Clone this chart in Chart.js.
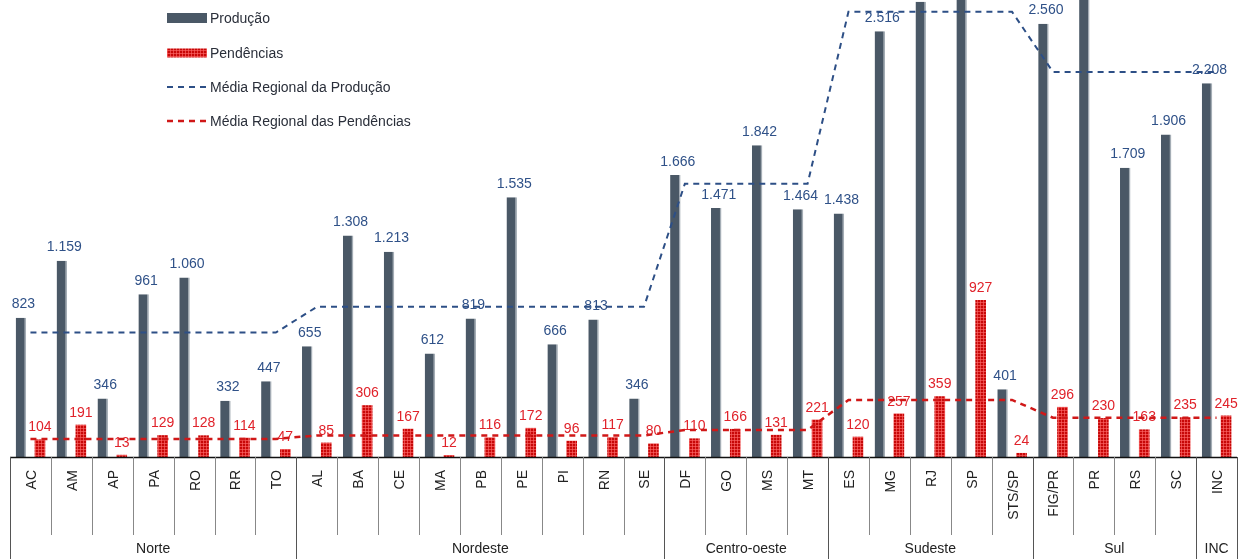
<!DOCTYPE html>
<html>
<head>
<meta charset="utf-8">
<script src="https://cdn.jsdelivr.net/npm/chart.js@4.4.0/dist/chart.umd.min.js"></script>
<style>
html,body{margin:0;padding:0;background:#fff;}
canvas{display:block;}
</style>
</head>
<body>
<canvas id="c" width="1242" height="559"></canvas>
<script>
const categories = ['AC','AM','AP','PA','RO','RR','TO','AL','BA','CE','MA','PB','PE','PI','RN','SE','DF','GO','MS','MT','ES','MG','RJ','SP','STS/SP','FIG/PR','PR','RS','SC','INC'];
const producao = [823,1159,346,961,1060,332,447,655,1308,1213,612,819,1535,666,813,346,1666,1471,1842,1464,1438,2516,2690,6100,401,2560,2925,1709,1906,2208];
const pendencias = [104,191,13,129,128,114,47,85,306,167,12,116,172,96,117,80,110,166,131,221,120,257,359,927,24,296,230,163,235,245];
const mediaProducao = [735,735,735,735,735,735,735,887,887,887,887,887,887,887,887,887,1614,1614,1614,1614,2630,2630,2630,2630,2630,2275,2275,2275,2275,2275];
const mediaPendencias = [107,107,107,107,107,107,107,127,127,127,127,127,127,127,127,127,160,160,160,160,337,337,337,337,337,232,232,232,232,232];
const groups = ['Norte','Nordeste','Centro-oeste','Sudeste','Sul','INC'];
const groupSizes = [7,9,4,5,4,1];
const seriesNames = ['Produção','Pendências','Média Regional da Produção','Média Regional das Pendências'];
const yMax = 2700;

const FONT = '"Liberation Sans", Arial, sans-serif';
const GRAY = '#4a5866';
const BLUE_LINE = '#2d4f86';
const BLUE_TXT = '#2f5188';
const RED_TXT = '#e0222a';

function makePattern(){
  const p = document.createElement('canvas');
  p.width = 3; p.height = 3;
  const g = p.getContext('2d');
  g.fillStyle = '#c80808'; g.fillRect(0,0,3,3);
  g.fillStyle = 'rgba(255,110,110,0.6)';
  g.fillRect(2,0,1,3); g.fillRect(0,2,3,1);
  return g.createPattern(p,'repeat');
}
const redPattern = makePattern();

function fmt(v){ return String(v).replace(/\B(?=(\d{3})+(?!\d))/g,'.'); }

const decor = {
  id:'decor',
  beforeDatasetsDraw(chart){
    const ctx = chart.ctx;
    ctx.save();
    ctx.font = '14px ' + FONT;
    ctx.textAlign = 'center';
    ctx.textBaseline = 'alphabetic';
    const m0 = chart.getDatasetMeta(2), m1 = chart.getDatasetMeta(3);
    m0.data.forEach((b,i)=>{
      if (producao[i] > yMax) return;
      ctx.fillStyle = BLUE_TXT;
      ctx.fillText(fmt(producao[i]), b.x + 2.5, b.y - 9.5);
    });
    m1.data.forEach((b,i)=>{
      ctx.fillStyle = RED_TXT;
      ctx.fillText(fmt(pendencias[i]), b.x, b.y - 8);
    });
    ctx.restore();
  },
  afterDraw(chart){
    const ctx = chart.ctx;
    const ca = chart.chartArea;
    const x = chart.scales.x;
    const n = categories.length;
    const w = (ca.right - ca.left) / n;
    ctx.save();
    ctx.strokeStyle = '#111';
    ctx.lineWidth = 1.5;
    ctx.beginPath(); ctx.moveTo(ca.left, ca.bottom + 0.5); ctx.lineTo(ca.right, ca.bottom + 0.5); ctx.stroke();
    ctx.lineWidth = 1;
    const groupEdges = new Set();
    let acc = 0; groupEdges.add(0);
    groupSizes.forEach(s=>{ acc += s; groupEdges.add(acc); });
    for (let k=0;k<=n;k++){
      const px = Math.round(ca.left + k*w) + 0.5;
      ctx.beginPath();
      ctx.moveTo(px, ca.bottom);
      ctx.lineTo(px, groupEdges.has(k) ? 559 : 535);
      ctx.strokeStyle = groupEdges.has(k) ? '#555' : '#888';
      ctx.stroke();
    }
    ctx.fillStyle = '#222';
    ctx.font = '14px ' + FONT;
    ctx.textAlign = 'right';
    ctx.textBaseline = 'alphabetic';
    categories.forEach((c,i)=>{
      const cx = x.getPixelForValue(i);
      ctx.save();
      ctx.translate(cx + 5.5, 470);
      ctx.rotate(-Math.PI/2);
      ctx.fillText(c, 0, 0);
      ctx.restore();
    });
    ctx.textAlign = 'center';
    ctx.textBaseline = 'middle';
    let start = 0;
    groups.forEach((g,gi)=>{
      const l = ca.left + start*w, r = ca.left + (start+groupSizes[gi])*w;
      ctx.fillText(g, (l+r)/2, 549);
      start += groupSizes[gi];
    });
    const lx = 167, tx = 210;
    const ys = [18, 53, 87, 121];
    ctx.fillStyle = GRAY; ctx.fillRect(lx, ys[0]-5, 40, 10);
    ctx.fillStyle = redPattern; ctx.fillRect(lx, ys[1]-4.5, 40, 9);
    ctx.setLineDash([6,5]);
    ctx.lineWidth = 2; ctx.strokeStyle = BLUE_LINE;
    ctx.beginPath(); ctx.moveTo(lx, ys[2]); ctx.lineTo(lx+40, ys[2]); ctx.stroke();
    ctx.lineWidth = 2.5; ctx.strokeStyle = '#d01818';
    ctx.beginPath(); ctx.moveTo(lx, ys[3]); ctx.lineTo(lx+40, ys[3]); ctx.stroke();
    ctx.setLineDash([]);
    ctx.fillStyle = '#2a2f3a';
    ctx.textAlign = 'left';
    ctx.textBaseline = 'middle';
    ctx.font = '14px ' + FONT;
    seriesNames.forEach((s,i)=> ctx.fillText(s, tx, ys[i]+1));
    ctx.restore();
  }
};

new Chart(document.getElementById('c'), {
  type: 'bar',
  data: {
    labels: categories,
    datasets: [
      { type:'line', label: seriesNames[2], data: mediaProducao, borderColor: BLUE_LINE, borderWidth: 2, borderDash:[6,5], pointRadius:0, fill:false, tension:0, order:0 },
      { type:'line', label: seriesNames[3], data: mediaPendencias, borderColor: '#d01818', borderWidth: 2.5, borderDash:[6,5], pointRadius:0, fill:false, tension:0, order:0 },
      { label: seriesNames[0], data: producao, backgroundColor: GRAY, borderColor: '#a4adb5', borderWidth: {right:1.5, left:0, top:0, bottom:0}, borderSkipped: false, categoryPercentage: 0.93, barPercentage: 0.55, order:1 },
      { label: seriesNames[1], data: pendencias, backgroundColor: redPattern, borderWidth: 0, categoryPercentage: 0.93, barPercentage: 0.56, order:1 }
    ]
  },
  options: {
    responsive: false,
    animation: false,
    devicePixelRatio: 1,
    layout: { padding: { left: 10, right: 5, top: 0, bottom: 102 } },
    plugins: { legend: { display:false }, tooltip: { enabled:false } },
    scales: {
      x: { display:false },
      y: { display:false, min:0, max:yMax }
    }
  },
  plugins: [decor]
});
</script>
</body>
</html>
